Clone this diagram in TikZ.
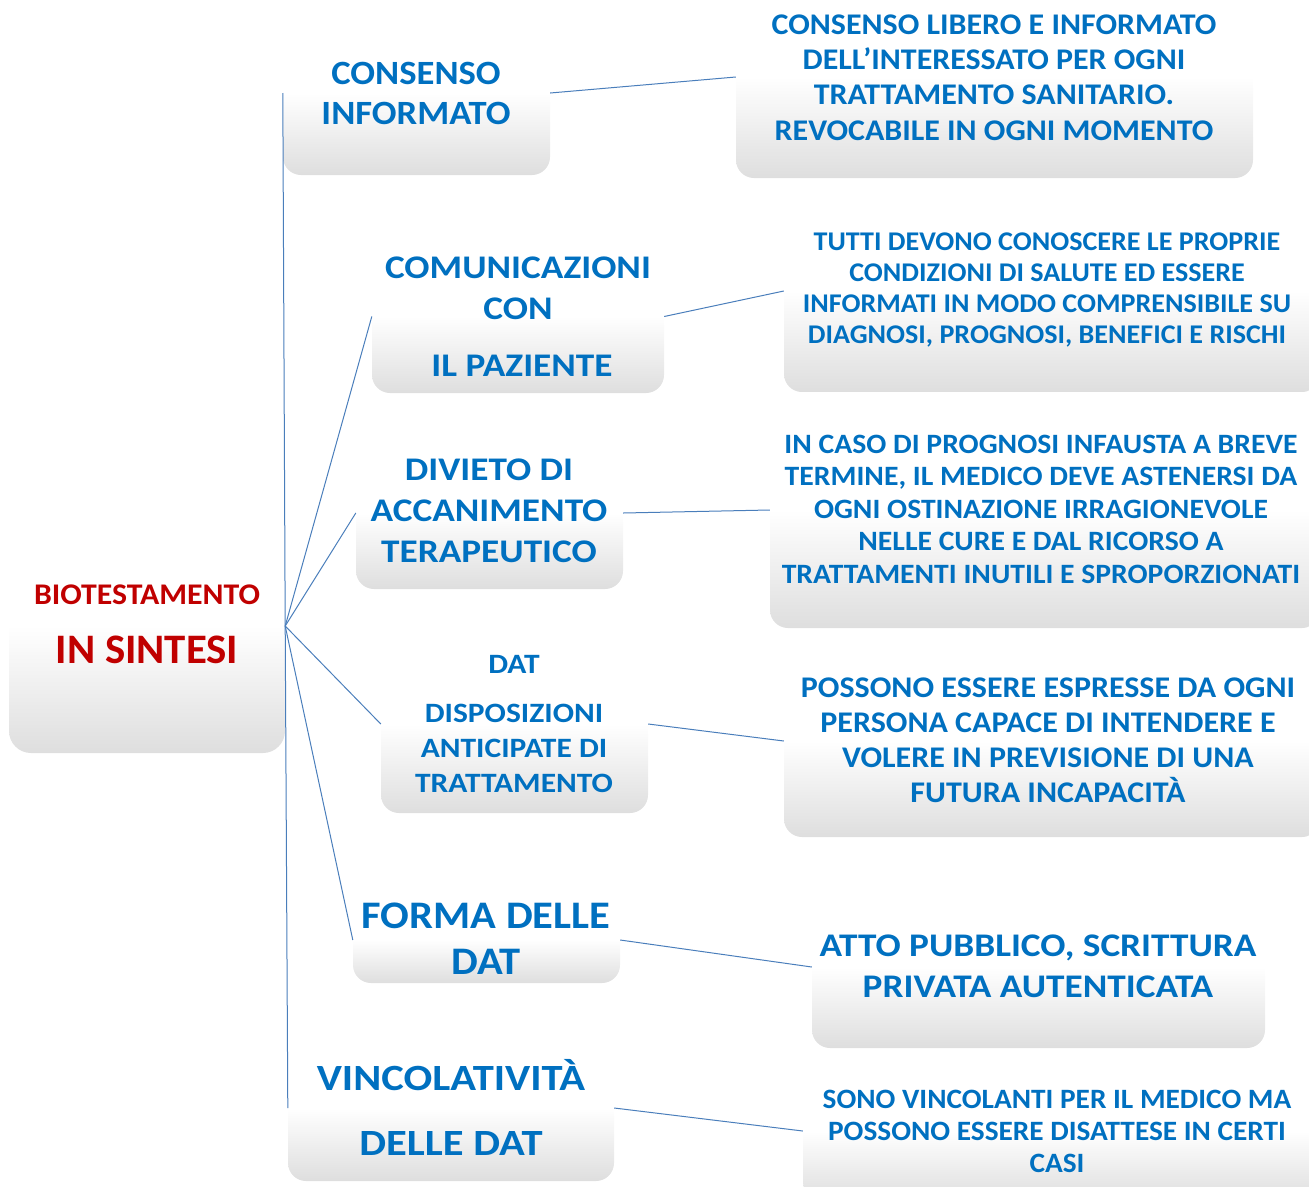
\documentclass[tikz,border=0pt]{standalone}
\usepackage{fontspec}
\setmainfont{Carlito}
\definecolor{textblau}{RGB}{0,112,192}
\definecolor{textrot}{RGB}{192,0,0}
\definecolor{linie}{RGB}{74,126,187}
\definecolor{kastengrau}{RGB}{222,222,222}

\begin{document}
\begin{tikzpicture}[x=1pt,y=-1pt,
    kasten/.style={rounded corners=18pt, inner sep=0pt, top color=white, bottom color=kastengrau, middle color=white},
    titel/.style={text=textblau, font=\bfseries, align=center},
    verbindung/.style={draw=linie, line width=1pt}]
    \useasboundingbox (0,0) rectangle (1309,1186);
    \clip (0,0) rectangle (1309,1186);

    % Kaesten (Hintergrund)
    \node[kasten, rounded corners=22pt, minimum width=276, minimum height=254] (wurzel) at (147,626) {};
    \node[kasten, minimum width=267, minimum height=164] (cons) at (416.5,93) {};
    \node[kasten, minimum width=517, minimum height=202] (consd) at (994.5,77) {};
    \node[kasten, minimum width=292, minimum height=153] (comm) at (518,316.5) {};
    \node[kasten, minimum width=536, minimum height=202] (commd) at (1052,291) {};
    \node[kasten, minimum width=267, minimum height=152] (div) at (489.5,513) {};
    \node[kasten, minimum width=550, minimum height=236] (divd) at (1045,510) {};
    \node[kasten, minimum width=267, minimum height=178] (dat) at (514.5,724) {};
    \node[kasten, minimum width=536, minimum height=192] (datd) at (1052,741) {};
    \node[kasten, minimum width=267, minimum height=86] (forma) at (486.5,940) {};
    \node[kasten, minimum width=453, minimum height=162] (formad) at (1038.5,967) {};
    \node[kasten, minimum width=326, minimum height=146] (vinc) at (451,1108) {};
    \node[kasten, minimum width=517, minimum height=138] (vincd) at (1061.5,1131) {};

    % Wurzel
    \node[titel, text=textrot, xscale=1.06, font=\bfseries\fontsize{30}{36}\selectfont] (wurzel-a) at (147,595) {BIOTESTAMENTO};
    \node[titel, text=textrot, xscale=1.02, font=\bfseries\fontsize{42}{50}\selectfont] (wurzel-b) at (147,650) {IN SINTESI};

    % Themen
    \node[titel, xscale=1.077, font=\bfseries\fontsize{34}{40}\selectfont] (cons-t) at (416,93) {CONSENSO\\INFORMATO};
    \node[titel, xscale=1.13, font=\bfseries\fontsize{33}{41}\selectfont] (comm-t) at (518,317) {COMUNICAZIONI\\CON\\[16pt]\hspace*{7pt}IL PAZIENTE};
    \node[titel, xscale=1.13, font=\bfseries\fontsize{33}{41}\selectfont] (div-t) at (489,511) {DIVIETO DI\\ACCANIMENTO\\TERAPEUTICO};
    \node[titel, xscale=1.125, font=\bfseries\fontsize{28}{35}\selectfont] (dat-t) at (514,724.5) {DAT\\[14pt]DISPOSIZIONI\\ANTICIPATE DI\\TRATTAMENTO};
    \node[titel, xscale=1.09, font=\bfseries\fontsize{39}{46}\selectfont] (forma-t) at (486,939) {FORMA DELLE\\DAT};
    \node[titel, xscale=1.15, font=\bfseries\fontsize{37}{44}\selectfont] (vinc-t) at (451,1107.5) {VINCOLATIVITÀ\\[21pt]DELLE DAT};

    % Erlaeuterungen
    \node[titel, xscale=1.065, font=\bfseries\fontsize{30}{35.3}\selectfont] (consd-t) at (994,77.5) {CONSENSO LIBERO E INFORMATO\\DELL’INTERESSATO PER OGNI\\TRATTAMENTO SANITARIO.\\REVOCABILE IN OGNI MOMENTO};
    \node[titel, xscale=1.04, font=\bfseries\fontsize{27}{30.7}\selectfont] (commd-t) at (1047,290) {TUTTI DEVONO CONOSCERE LE PROPRIE\\CONDIZIONI DI SALUTE ED ESSERE\\INFORMATI IN MODO COMPRENSIBILE SU\\DIAGNOSI, PROGNOSI, BENEFICI E RISCHI};
    \node[titel, xscale=1.06, font=\bfseries\fontsize{28}{32.5}\selectfont] (divd-t) at (1041,509) {IN CASO DI PROGNOSI INFAUSTA A BREVE\\TERMINE, IL MEDICO DEVE ASTENERSI DA\\OGNI OSTINAZIONE IRRAGIONEVOLE\\NELLE CURE E DAL RICORSO A\\TRATTAMENTI INUTILI E SPROPORZIONATI};
    \node[titel, xscale=1.067, font=\bfseries\fontsize{30}{35}\selectfont] (datd-t) at (1048,740.5) {POSSONO ESSERE ESPRESSE DA OGNI\\PERSONA CAPACE DI INTENDERE E\\VOLERE IN PREVISIONE DI UNA\\FUTURA INCAPACITÀ};
    \node[titel, xscale=1.13, font=\bfseries\fontsize{33}{41}\selectfont] (formad-t) at (1038,966.5) {ATTO PUBBLICO, SCRITTURA\\PRIVATA AUTENTICATA};
    \node[titel, xscale=1.047, font=\bfseries\fontsize{28}{32}\selectfont] (vincd-t) at (1057,1131) {SONO VINCOLANTI PER IL MEDICO MA\\POSSONO ESSERE DISATTESE IN CERTI\\CASI};

    % Verbindungen
    \draw[verbindung] (cons.west) -- (wurzel.east) -- (vinc.west);
    \foreach \k in {comm,div,dat,forma}
        \draw[verbindung] (wurzel.east) -- (\k.west);
    \foreach \k in {cons,comm,div,dat,forma,vinc}
        \draw[verbindung] (\k.east) -- (\k d.west);
\end{tikzpicture}
\end{document}
